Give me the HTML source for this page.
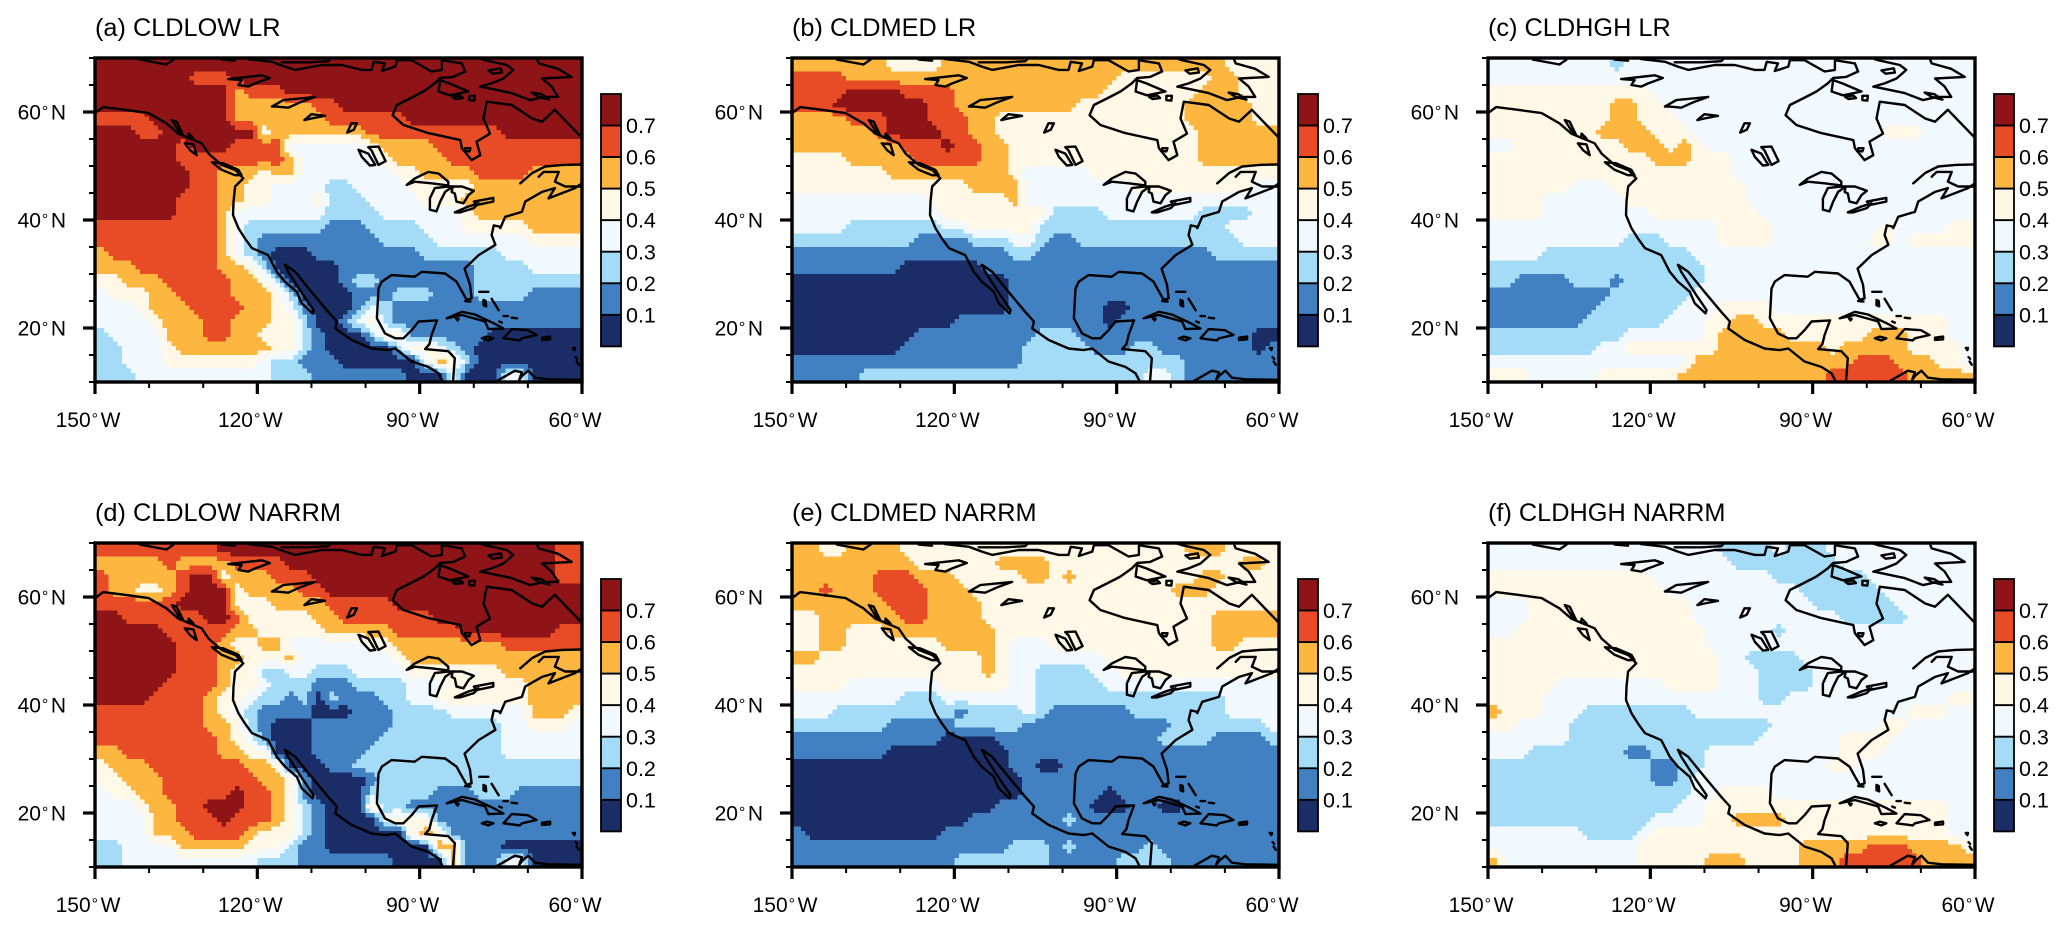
<!DOCTYPE html>
<html lang="en">
<head>
<meta charset="utf-8">
<title>Cloud fraction maps: LR and NARRM</title>
<style>
html,body{margin:0;padding:0;background:#fff;}
svg{display:block;font-family:"Liberation Sans",Arial,sans-serif;fill:#000;}
</style>
</head>
<body>
<svg id="figure" width="2067" height="927" viewBox="0 0 2067 927" xmlns="http://www.w3.org/2000/svg"></svg>
<script>
// Cloud fraction class in tenths, 2.5 degree cells: rows from 70N south, columns from 150W east.
const cldlowLr = [
[7,7,7,7,7,7,7,7,7,7,7,7,7,7,7,7,7,7,7,7,7,7,7,7,7,7,7,7,7,7,7,7,7,7,7,7],
[7,7,7,7,7,7,7,6,6,6,7,7,7,7,7,7,7,7,7,7,7,7,7,7,7,7,7,7,7,7,7,7,7,7,7,7],
[7,7,7,7,7,7,7,7,7,7,5,6,6,6,7,7,7,7,7,7,7,7,7,7,7,7,7,7,7,7,7,7,7,7,7,7],
[7,7,7,7,7,7,7,7,7,7,5,5,5,5,5,5,6,6,7,7,7,7,7,7,7,7,7,7,7,7,7,7,7,7,7,7],
[6,6,6,6,7,7,7,7,7,7,5,5,5,5,5,5,5,6,6,6,6,6,6,7,7,7,7,7,7,7,7,7,7,7,7,7],
[7,7,7,6,6,7,7,7,7,7,7,7,4,5,5,5,5,5,5,5,6,6,6,6,6,6,6,6,6,6,7,7,7,7,7,7],
[7,7,7,7,7,7,6,7,7,7,6,6,6,6,3,3,3,3,3,3,4,5,5,5,5,6,6,6,6,6,6,6,6,6,6,6],
[7,7,7,7,7,7,6,6,6,6,6,6,6,6,5,3,3,3,3,3,3,4,5,5,5,5,6,6,6,6,6,6,6,6,6,6],
[7,7,7,7,7,7,7,6,6,5,5,5,4,5,5,3,3,3,3,3,3,3,4,4,5,5,5,5,6,6,6,6,5,5,5,5],
[7,7,7,7,7,7,7,6,6,5,5,4,4,3,3,3,3,2,2,3,3,3,3,4,4,4,4,4,5,5,5,5,5,5,5,5],
[7,7,7,7,7,7,6,6,6,5,5,4,4,3,3,3,4,2,2,2,3,3,3,3,4,4,4,5,5,5,5,5,5,5,5,5],
[7,7,7,7,7,7,6,6,6,5,3,3,3,3,3,3,3,2,2,2,2,3,3,3,3,3,3,4,5,5,5,5,5,5,5,5],
[6,6,6,6,6,6,6,6,6,5,3,2,2,2,2,2,2,1,1,1,2,2,2,2,3,3,3,4,4,4,4,4,5,5,5,5],
[6,6,6,6,6,6,6,6,6,5,3,2,1,1,1,1,1,1,1,1,1,2,2,2,2,3,3,3,3,3,3,3,4,4,4,4],
[5,6,6,6,6,6,6,6,6,5,3,2,1,0,0,0,1,1,1,1,1,1,1,1,2,2,2,2,2,2,3,3,3,3,3,3],
[5,5,5,6,6,6,6,6,6,5,5,4,2,0,0,0,0,0,1,1,1,1,1,1,1,1,1,1,2,2,2,2,3,3,3,3],
[4,4,5,5,5,6,6,6,6,6,5,5,4,2,0,0,0,0,1,2,2,1,1,1,1,1,1,1,2,2,2,2,2,2,2,2],
[3,4,4,4,5,5,6,6,6,6,5,5,5,4,2,0,0,0,0,1,1,1,2,2,2,1,1,1,2,2,2,2,1,1,1,1],
[3,3,3,4,5,5,5,6,6,6,6,5,5,4,3,1,0,0,0,1,3,2,1,1,1,1,1,1,1,1,1,1,1,1,1,1],
[3,3,3,3,4,5,5,5,6,6,5,5,5,4,4,2,0,0,1,3,4,2,1,1,1,1,1,1,1,1,1,1,1,1,1,1],
[2,3,3,3,3,5,5,5,6,6,5,5,4,4,4,2,1,0,0,0,2,4,4,1,1,1,1,1,1,0,0,0,0,0,0,0],
[2,2,3,3,3,4,5,5,5,5,5,5,5,4,4,2,1,0,0,0,0,0,2,4,4,3,2,1,0,0,0,0,0,0,0,0],
[2,2,3,3,3,4,4,4,4,4,4,4,3,2,2,1,1,1,0,0,0,0,0,0,3,5,4,2,0,0,0,0,0,0,0,0],
[2,2,2,3,3,3,3,3,3,3,3,3,3,2,2,2,1,1,1,1,1,1,1,0,0,0,3,0,0,0,3,3,0,0,0,0]
];
const cldmedLr = [
[5,5,5,5,5,5,5,4,4,4,4,5,5,5,5,5,5,5,5,5,5,5,5,5,5,5,5,5,5,5,5,5,4,4,4,4],
[6,6,6,6,5,5,5,5,5,5,5,5,5,5,5,5,5,5,5,5,5,5,5,5,4,4,4,4,4,4,4,5,5,4,4,4],
[6,6,6,6,7,7,7,7,6,6,6,6,5,5,5,5,5,5,5,5,5,5,5,4,4,4,4,4,4,4,5,5,5,4,4,4],
[6,6,6,7,7,7,7,7,7,7,6,6,5,5,5,5,5,5,5,5,5,4,4,4,4,4,4,4,4,5,5,5,5,5,4,4],
[5,5,5,5,6,6,6,7,7,7,6,6,6,5,5,4,4,4,4,4,4,4,4,4,4,4,4,4,4,5,5,5,5,5,4,4],
[5,5,5,5,5,5,6,7,7,7,7,6,6,5,5,4,4,4,4,4,4,4,4,4,4,4,4,4,4,4,5,5,5,5,5,5],
[5,5,5,5,5,5,5,5,6,6,6,7,6,6,5,5,4,4,4,4,4,4,4,4,4,4,4,4,4,4,5,5,5,5,5,5],
[4,4,4,4,5,5,5,5,5,6,6,6,6,6,5,5,4,4,4,4,4,4,4,4,4,4,4,4,4,4,5,5,5,5,5,5],
[4,4,4,4,4,4,4,5,5,5,5,5,5,5,5,5,4,3,3,3,3,3,4,4,4,4,4,4,4,4,4,4,4,4,4,4],
[4,4,4,4,4,4,4,4,4,4,4,4,4,5,5,5,5,3,3,3,3,3,3,3,3,4,4,4,4,4,4,4,4,4,3,3],
[3,3,3,3,3,3,3,3,3,3,4,4,4,4,4,4,5,3,3,3,3,3,3,3,3,3,3,3,3,3,3,3,3,3,3,3],
[3,3,3,3,3,3,3,3,3,3,3,4,4,4,4,4,4,4,4,2,2,2,2,3,3,3,3,3,3,3,2,2,2,2,3,3],
[3,3,3,3,2,2,2,2,2,2,2,3,3,4,4,4,4,4,2,2,2,2,2,2,2,2,2,2,2,2,2,2,3,3,3,3],
[2,2,2,2,2,2,2,2,2,1,1,1,1,2,2,2,3,3,2,1,1,2,2,2,2,2,2,2,2,2,2,2,2,3,3,3],
[1,1,1,1,1,1,1,1,1,1,1,1,1,1,1,1,2,2,1,1,1,1,1,1,1,1,1,1,1,1,1,2,2,2,2,2],
[1,1,1,1,1,1,1,1,0,0,0,0,0,0,1,1,1,1,1,1,1,1,1,1,1,1,1,1,1,1,1,1,1,1,1,1],
[0,0,0,0,0,0,0,0,0,0,0,0,0,0,0,0,1,1,1,1,1,1,1,1,1,1,1,1,1,1,1,1,1,1,1,1],
[0,0,0,0,0,0,0,0,0,0,0,0,0,0,0,0,1,1,1,1,1,1,1,1,1,1,1,1,1,1,1,1,1,1,1,1],
[0,0,0,0,0,0,0,0,0,0,0,0,0,0,0,0,1,1,1,1,1,1,1,0,0,1,1,1,1,1,1,1,1,1,1,1],
[0,0,0,0,0,0,0,0,0,0,0,0,1,1,1,1,1,1,1,1,1,1,1,0,1,1,1,1,1,1,1,1,1,1,1,1],
[0,0,0,0,0,0,0,0,0,1,1,1,1,1,1,1,1,1,2,2,2,1,1,1,1,1,1,1,1,1,1,1,1,1,0,0],
[0,0,0,0,0,0,0,0,1,1,1,1,1,1,1,1,1,2,2,2,2,2,1,1,1,2,2,1,1,1,1,1,1,1,0,1],
[1,1,1,1,1,1,1,1,1,1,1,1,1,1,1,1,1,2,2,2,2,2,2,2,2,2,2,2,2,1,1,1,1,1,1,1],
[1,1,1,1,1,2,2,2,2,2,2,2,2,2,2,2,2,2,2,2,2,2,2,2,2,2,3,3,2,1,1,1,1,1,1,1]
];
const cldhghLr = [
[3,3,3,3,3,3,3,3,3,2,3,3,3,3,3,3,3,3,3,3,3,3,3,3,3,3,3,3,3,3,3,3,3,3,3,3],
[3,3,3,3,3,3,3,3,3,3,3,3,3,3,3,3,3,3,3,3,3,3,3,3,3,3,3,3,3,3,3,3,3,3,3,3],
[4,4,4,4,4,4,4,4,4,4,4,4,3,3,3,3,3,3,3,3,3,3,3,3,3,3,3,3,3,3,3,3,3,3,3,3],
[4,4,4,4,4,4,4,4,4,5,5,4,4,3,3,3,3,3,3,3,3,3,3,3,3,3,3,3,3,3,3,3,3,3,3,3],
[4,4,4,4,4,4,4,4,4,5,5,4,4,4,3,3,3,3,3,3,3,3,3,3,3,3,3,3,3,3,3,3,3,3,3,3],
[4,4,4,4,4,4,4,4,5,5,5,5,4,4,4,3,3,3,3,3,3,3,3,3,3,3,3,3,3,4,4,4,3,3,3,3],
[3,3,4,4,4,4,4,4,4,4,5,5,5,4,5,4,3,3,3,3,3,3,3,3,3,3,3,3,3,3,3,3,3,3,3,3],
[4,4,4,4,4,4,4,4,4,4,4,4,5,5,5,4,4,4,3,3,3,3,3,3,3,3,3,3,3,3,3,3,3,3,3,3],
[4,4,4,4,4,4,4,4,4,4,4,4,4,4,4,4,4,4,3,3,3,3,3,3,3,3,3,3,3,3,3,3,3,3,3,3],
[4,4,4,4,4,4,3,3,3,4,4,4,4,4,4,4,4,4,4,3,3,3,3,3,3,3,3,3,3,3,3,3,3,3,3,3],
[4,4,4,4,3,3,3,3,3,3,4,4,4,4,4,4,4,4,4,3,3,3,3,3,3,3,3,3,3,3,3,3,3,3,3,3],
[4,4,4,4,3,3,3,3,3,3,3,3,4,4,4,4,4,4,4,4,3,3,3,3,3,3,3,3,3,3,3,3,3,3,3,3],
[3,3,3,3,3,3,3,3,3,3,3,3,3,3,3,3,3,4,4,4,4,3,3,3,3,3,3,3,3,4,3,3,3,3,4,4],
[3,3,3,3,3,3,3,3,3,3,2,2,2,3,3,3,3,4,4,4,4,3,3,3,3,3,3,3,4,4,3,4,4,4,4,4],
[3,3,3,3,2,2,2,2,2,2,2,2,2,2,2,3,3,3,3,3,3,3,3,3,3,3,3,3,3,3,3,3,3,3,3,3],
[2,2,2,2,2,2,2,2,2,2,2,2,2,2,2,2,3,3,3,3,3,3,3,3,3,3,3,3,3,3,3,3,3,3,3,3],
[2,2,1,1,1,1,2,2,2,1,2,2,2,2,2,2,3,3,3,3,3,3,3,3,3,3,3,3,3,3,3,3,3,3,3,3],
[1,1,1,1,1,1,1,1,1,2,2,2,2,2,2,3,3,3,3,3,3,3,3,3,3,3,3,3,3,3,3,3,3,3,3,3],
[1,1,1,1,1,1,1,1,2,2,2,2,2,2,3,3,3,4,4,4,4,3,3,3,3,3,3,3,3,3,3,3,3,3,3,3],
[1,1,1,1,1,1,1,2,2,2,2,2,2,3,3,3,4,4,5,5,4,4,4,4,4,4,4,4,4,4,4,4,4,4,3,3],
[2,2,2,2,2,2,2,2,2,2,3,3,3,3,3,3,4,5,5,5,5,5,4,4,4,4,4,4,5,5,5,4,4,4,3,3],
[2,2,2,2,2,2,2,2,3,3,4,4,4,4,4,4,4,5,5,5,5,5,5,5,5,4,5,5,5,5,5,4,4,4,4,3],
[3,3,3,3,3,3,3,3,3,3,3,3,3,3,3,5,5,5,5,5,5,5,5,5,5,5,5,6,6,6,5,5,5,4,4,3],
[4,4,4,3,3,3,3,3,4,4,4,4,4,4,5,5,5,5,5,5,5,5,5,5,5,6,6,6,6,6,6,5,5,5,5,5]
];
const cldlowNarrm = [
[6,6,6,6,6,6,6,6,6,7,7,7,7,7,7,7,7,7,7,7,7,7,7,7,7,7,7,7,7,7,7,7,7,7,6,6],
[5,5,5,5,5,6,5,5,5,5,6,6,6,6,7,7,7,7,7,7,7,7,7,7,7,7,7,7,7,7,7,7,7,7,6,6],
[6,5,5,5,5,5,6,7,7,4,5,5,5,6,6,6,7,7,7,7,7,7,7,7,7,7,7,7,7,7,7,7,7,7,6,6],
[6,5,5,4,4,5,6,7,7,7,4,5,5,5,5,6,6,7,7,7,7,7,7,7,7,7,7,7,7,7,7,7,7,7,7,7],
[6,6,6,6,6,6,7,7,7,7,4,4,4,5,5,5,5,6,6,6,6,6,7,7,7,7,7,7,7,7,7,7,7,7,7,7],
[7,7,6,6,6,6,6,6,7,7,6,4,4,4,4,4,5,5,6,6,6,6,6,6,6,7,7,7,7,7,7,7,7,7,7,7],
[7,7,7,7,7,6,6,6,6,6,5,5,4,4,4,4,4,5,5,5,5,5,6,6,6,6,6,7,7,7,7,7,7,7,6,6],
[7,7,7,7,7,7,6,6,6,5,4,4,5,5,3,3,3,3,3,3,4,4,5,5,5,5,5,5,5,5,6,6,6,6,6,6],
[7,7,7,7,7,7,6,6,6,5,5,4,4,4,5,3,3,3,3,3,3,3,4,5,5,5,5,5,5,5,5,5,5,5,5,5],
[7,7,7,7,7,7,6,6,6,5,4,4,2,2,3,3,2,2,2,3,3,3,3,4,4,4,4,4,4,4,5,5,5,5,5,5],
[7,7,7,7,7,6,6,6,6,5,4,4,3,2,2,2,1,1,1,2,2,2,2,3,3,3,4,4,4,4,4,4,5,5,5,5],
[7,7,7,7,6,6,6,6,5,4,4,3,2,2,1,2,0,2,1,1,1,2,2,3,3,4,4,4,4,4,4,4,5,5,5,5],
[6,6,6,6,6,6,6,6,5,4,3,2,1,1,1,1,0,0,0,1,1,1,2,2,2,2,3,3,3,3,3,3,5,5,5,4],
[6,6,6,6,6,6,6,6,5,5,4,2,1,0,0,0,1,1,1,1,1,1,2,2,2,2,2,2,2,2,3,3,4,4,4,3],
[6,6,6,6,6,6,6,6,6,5,4,3,1,0,0,0,1,1,1,1,1,2,2,2,2,2,2,2,2,2,3,3,3,3,3,3],
[5,5,6,6,6,6,6,6,6,5,5,4,4,0,0,0,1,1,1,1,2,2,2,2,2,2,2,2,2,2,3,3,3,3,3,3],
[4,5,5,5,6,6,6,6,6,6,6,5,5,4,0,0,0,1,1,2,2,2,2,2,2,2,2,2,2,2,2,2,2,2,2,2],
[4,4,5,5,5,6,6,6,6,6,6,6,5,5,4,1,0,0,0,0,1,2,2,2,2,2,2,2,2,2,2,2,2,2,2,2],
[3,4,4,5,5,6,6,6,6,6,7,6,6,5,4,1,0,0,0,0,2,2,2,2,2,1,1,1,2,2,2,1,1,1,1,1],
[3,3,3,4,5,5,6,6,7,7,7,6,6,5,4,2,1,0,0,0,4,2,2,1,1,1,1,1,1,1,1,1,1,1,1,1],
[3,3,3,3,5,5,6,6,6,7,6,6,6,5,4,2,1,0,0,0,0,3,4,4,4,1,1,1,1,1,1,1,1,1,1,1],
[3,3,3,3,5,5,5,6,6,6,6,5,4,4,4,2,1,0,0,0,0,0,0,4,5,4,1,1,1,1,1,1,1,1,1,1],
[2,2,3,3,3,3,5,5,5,5,5,4,4,4,2,1,1,0,0,0,0,0,0,0,0,5,5,1,1,1,0,0,0,0,0,0],
[2,2,3,3,3,3,3,3,3,3,3,3,2,2,2,1,1,1,1,1,1,1,0,0,0,0,5,1,1,1,3,3,0,0,0,0]
];
const cldmedNarrm = [
[5,5,4,4,5,5,5,5,4,4,4,4,4,4,4,4,4,4,4,4,4,4,4,4,4,4,4,4,4,5,5,5,4,4,4,4],
[5,5,5,5,5,5,5,5,5,4,4,4,4,4,4,5,5,5,5,4,4,4,4,4,4,4,4,4,4,4,4,4,4,5,5,4],
[5,5,5,5,5,5,6,6,6,5,5,5,4,4,4,4,4,5,5,4,5,4,4,4,4,4,4,4,4,4,5,5,4,4,4,4],
[5,5,6,5,5,5,6,6,6,6,5,5,5,4,4,4,4,4,4,4,4,4,4,4,4,4,4,4,5,5,5,4,4,4,4,4],
[5,5,5,5,5,5,5,6,6,6,5,5,5,5,4,4,4,4,4,4,4,4,4,4,4,4,4,4,4,4,4,4,4,4,4,4],
[4,4,5,5,5,5,5,5,6,6,5,5,5,5,4,4,4,4,4,4,4,4,4,4,4,4,4,4,4,4,4,5,5,5,5,5],
[4,4,5,5,4,4,4,5,5,5,5,5,5,5,5,4,4,4,4,4,4,4,4,4,4,4,4,4,4,4,4,5,5,5,5,5],
[4,4,5,5,4,4,4,4,4,4,4,5,5,5,5,4,3,3,3,4,4,4,4,4,4,4,4,4,4,4,4,5,5,4,4,4],
[5,5,4,4,4,4,4,4,4,4,4,4,4,4,5,4,3,3,3,3,3,3,3,4,4,4,4,4,4,4,4,4,4,4,4,4],
[4,4,4,4,4,4,4,4,4,4,4,4,4,4,5,4,3,3,2,2,2,2,3,3,4,4,4,4,4,4,4,4,4,4,4,4],
[4,4,4,4,3,3,3,3,3,3,3,4,4,4,4,4,3,3,2,2,2,2,2,3,3,3,3,3,3,3,3,3,3,3,3,3],
[3,3,3,3,3,3,3,3,2,2,2,3,3,3,3,3,3,3,2,2,2,2,2,2,2,2,2,2,2,2,2,2,3,3,3,3],
[3,3,3,2,2,2,2,2,2,2,2,2,1,2,2,2,2,3,2,1,1,1,1,1,1,2,2,2,2,2,2,2,3,3,3,3],
[2,2,2,2,2,2,2,1,1,1,1,1,2,2,2,2,2,1,1,1,1,1,1,1,1,1,1,1,2,2,2,2,2,2,2,3],
[1,1,1,1,1,1,1,1,1,1,1,0,0,0,0,1,1,1,1,1,1,1,1,1,1,1,1,2,2,2,2,1,1,1,1,2],
[1,1,1,1,1,1,1,0,0,0,0,0,0,0,0,0,1,1,1,1,1,1,1,1,1,1,1,1,1,1,1,1,1,1,1,1],
[0,0,0,0,0,0,0,0,0,0,0,0,0,0,0,0,1,1,0,0,1,1,1,1,1,1,1,1,1,1,1,1,1,1,1,1],
[0,0,0,0,0,0,0,0,0,0,0,0,0,0,0,0,0,1,1,1,1,1,1,1,1,1,1,1,1,1,1,1,1,1,1,1],
[0,0,0,0,0,0,0,0,0,0,0,0,0,0,0,0,0,1,1,1,1,1,1,0,1,1,1,1,1,1,1,1,1,1,1,1],
[0,0,0,0,0,0,0,0,0,0,0,0,0,0,0,1,1,1,1,1,1,1,0,0,0,1,1,0,0,1,1,1,1,1,1,1],
[0,0,0,0,0,0,0,0,0,0,0,0,0,1,1,1,1,1,1,1,2,1,1,1,1,1,1,1,1,1,1,1,1,1,1,1],
[1,0,0,0,0,0,0,0,0,0,0,1,1,1,1,1,1,1,1,1,1,1,1,1,1,1,1,1,1,1,1,1,1,1,1,1],
[1,1,1,1,1,1,1,1,1,1,1,1,1,1,1,1,2,2,2,1,2,1,1,1,1,1,2,1,1,1,1,1,1,1,1,1],
[1,1,1,1,1,1,1,1,1,1,1,1,2,2,2,2,2,2,2,1,1,1,1,1,2,2,2,2,1,1,1,1,1,1,1,1]
];
const cldhghNarrm = [
[3,3,3,3,3,3,3,3,3,3,3,3,3,3,3,3,3,2,2,2,2,3,2,2,2,3,3,3,3,3,3,3,3,3,3,3],
[3,3,3,3,3,3,3,3,3,3,3,3,3,3,3,3,3,3,2,2,2,2,2,2,2,2,3,3,3,3,3,3,3,3,3,3],
[4,4,4,4,4,4,4,4,4,4,4,4,3,3,3,3,3,3,3,3,3,2,2,2,2,2,2,2,3,3,3,3,3,3,3,3],
[4,4,4,4,4,4,4,4,4,4,4,4,4,3,3,3,3,3,3,3,3,3,3,2,2,2,2,2,2,3,3,3,3,3,3,3],
[3,3,3,4,4,4,4,4,4,4,4,4,4,4,4,3,3,3,3,3,3,3,3,3,2,2,2,2,2,2,3,3,3,3,3,3],
[3,3,3,4,4,4,4,4,4,4,4,4,4,4,4,3,3,3,3,3,3,3,3,3,3,3,2,2,2,2,2,3,3,3,3,3],
[3,3,4,4,4,4,4,4,4,4,4,4,4,4,4,4,3,3,3,3,3,2,3,3,3,3,3,3,3,3,3,3,3,3,3,3],
[4,4,4,4,4,4,4,4,4,4,4,4,4,4,4,4,3,3,3,3,3,3,3,3,3,3,3,3,3,3,3,3,3,3,3,3],
[4,4,4,4,4,4,4,4,4,4,4,4,4,4,4,4,4,3,3,2,2,2,2,3,3,3,3,3,3,3,3,3,3,3,3,3],
[4,4,4,4,4,4,4,4,4,4,4,4,4,4,4,4,4,3,3,3,2,2,2,2,3,3,3,3,3,3,3,3,3,3,3,3],
[4,4,4,4,4,3,3,3,3,3,3,3,3,4,4,4,4,3,3,3,2,2,2,2,3,3,3,3,3,3,3,3,3,3,3,3],
[4,4,4,4,3,3,3,3,3,3,3,3,3,3,3,3,3,3,3,3,2,2,3,3,3,3,3,3,3,3,3,3,3,3,4,4],
[5,4,4,4,3,3,3,2,2,2,2,2,2,2,2,3,3,3,3,3,3,3,3,3,3,3,3,3,3,3,3,4,4,4,3,3],
[4,4,3,3,3,3,2,2,2,2,2,2,2,2,2,2,2,2,2,2,2,3,3,3,3,3,3,3,3,4,4,3,3,3,3,3],
[3,3,3,3,3,3,2,2,2,2,2,2,2,2,2,2,2,2,2,2,3,3,3,3,3,3,4,4,4,4,3,3,3,3,3,3],
[3,3,3,2,2,2,2,2,2,2,1,1,2,2,2,2,3,3,3,3,3,3,3,3,3,3,4,4,4,3,3,3,3,3,3,3],
[2,2,2,2,2,2,2,2,2,2,2,2,1,1,2,2,3,3,3,3,3,3,3,3,3,4,4,3,3,3,3,3,3,3,3,3],
[2,2,2,2,2,2,2,2,2,2,2,2,1,1,2,3,3,3,3,3,3,3,3,3,3,3,3,3,3,3,3,3,3,3,3,3],
[2,2,2,2,2,2,2,2,2,2,2,2,2,2,2,3,3,4,4,4,4,3,3,3,3,3,3,3,3,3,3,3,3,3,3,3],
[2,2,2,2,2,2,2,2,2,2,2,2,2,2,3,3,4,4,4,4,4,4,4,4,4,4,4,4,4,4,4,4,4,4,3,3],
[2,2,2,2,2,2,2,2,2,2,2,2,3,3,3,3,4,4,5,5,5,5,4,4,4,4,4,4,4,4,4,4,4,4,3,3],
[3,3,3,3,3,3,3,2,2,2,2,3,4,4,4,4,4,4,4,4,4,4,4,4,4,4,4,4,4,4,4,4,4,4,3,3],
[3,3,3,3,3,3,3,3,3,3,3,4,4,4,4,4,4,4,4,4,4,4,4,5,5,5,5,5,6,6,6,5,5,5,5,4],
[5,3,3,3,3,3,3,3,3,3,3,4,4,4,4,4,5,5,5,4,4,4,4,5,5,5,6,6,6,6,6,6,5,5,5,5]
];

const panelTitles = ["(a) CLDLOW LR","(b) CLDMED LR","(c) CLDHGH LR","(d) CLDLOW NARRM","(e) CLDMED NARRM","(f) CLDHGH NARRM"];
const panelNames = ["cldlow-lr","cldmed-lr","cldhgh-lr","cldlow-narrm","cldmed-narrm","cldhgh-narrm"];
const panelValues = [cldlowLr,cldmedLr,cldhghLr,cldlowNarrm,cldmedNarrm,cldhghNarrm];
const colorLevels = ["0.7","0.6","0.5","0.4","0.3","0.2","0.1"];
const palette = ["#1b2d66","#4180c1","#a4dcf8","#f2f9fe","#fff8e6","#fdb741","#e84c26","#8f1417"];
const latMajor = [60,40,20];
const latMinor = [70,65,55,50,45,35,30,25,15,10];
const lonMajor = [-150,-120,-90,-60];
const lonMinor = [-140,-130,-110,-100,-80,-70];
const latLabels = ["60","40","20"];
const lonLabels = ["150","120","90","60"];

// Coastlines as [lon, lat].
const coastPacific = [[-150,59.8],[-148.5,60.9],[-144.5,60.4],[-140.1,59.8],[-136.8,57.9],[-134.6,56],[-130.3,54.2],[-129,52.3],[-126.6,50.2],[-124,49.2],[-122.6,47.7],[-124.1,46.2],[-124.4,43.4],[-124.5,40.9],[-123.5,38.5],[-122.3,36.6],[-121,34.8],[-118,33.5],[-116.4,30.4],[-114.9,28.6],[-112.7,26.7],[-111.8,24.6],[-109.8,22.7],[-109.6,23.3],[-111.5,26.1],[-114.3,30.4],[-114.9,31.7],[-113,30.4],[-110,26.7],[-106.9,23],[-105.3,21.2],[-105.6,19.9],[-102.6,17.8],[-98.9,16.2],[-96.1,15.9],[-94.5,16.2],[-91.5,13.8],[-88.4,12.8],[-86.5,11.6],[-85.9,10.4],[-85.6,9.5]];
const coastAtlantic = [[-83.8,9.5],[-83.8,10.5],[-83.5,14.4],[-84.7,15.7],[-89,16.1],[-88.2,17],[-87.8,18.7],[-86.8,21.4],[-90.2,21.2],[-91.5,19.6],[-93,18.1],[-94.5,18.1],[-96.4,19],[-97.9,21.8],[-97.6,27.3],[-97,28.6],[-95.2,29.8],[-90.9,29.5],[-89.6,30.4],[-85.3,30.1],[-83.2,28.6],[-82.5,27.3],[-81.3,25.2],[-80.4,25.5],[-80.7,28],[-81.7,31],[-79.1,33.5],[-76,35.4],[-76.7,37.2],[-76.3,39],[-75.3,38.8],[-75.1,38.5],[-74.2,40.6],[-71.1,41.5],[-70.5,43.4],[-67.4,45.2],[-65,45.9],[-66.2,44],[-61.3,45.9],[-60,46.8]];
const coastStLawrence = [[-71.4,46.8],[-69.2,48.7],[-66.8,49.9],[-63.6,50.2],[-60,50.3]];
const coastGaspe = [[-60,46.2],[-63.1,46.2],[-65,47.1],[-64.3,48.9],[-67.1,48.9],[-68,48]];
const coastArctic = [[-121.7,69.8],[-117.3,69.3],[-114.9,68.4],[-113,67.8],[-108.1,68.7],[-104.4,68.7],[-100.7,67.8],[-98.9,67.8],[-98.5,69.3],[-96.4,69],[-97,67.6],[-94.5,68.4],[-94.2,69.6],[-91.5,69.6],[-87.8,67.5],[-85.9,67.8],[-85.9,69.6],[-82.2,69],[-81.6,67.5],[-83.8,66.5],[-86.2,66.3],[-87.2,65.3],[-89.3,63.8],[-91.8,62.5],[-94.2,61.3],[-95,59.4],[-93,57.6],[-88.4,56.1],[-82.5,54.8],[-82.2,53.3],[-80.4,51.1],[-78.8,52],[-79.5,54.5],[-77,56],[-78.2,58.8],[-77.6,61.9],[-73,61.3],[-69.2,58.8],[-67.4,58.2],[-65,60.4],[-60,55.2]];
const coastBeaufort = [[-141.7,69.7],[-136.8,68.8],[-135.5,69.7]];
const coastMackenzie = [[-126.6,69.7],[-124.1,69.5]];
const coastVictoria = [[-115.5,69.2],[-110.5,69.2],[-106.9,69.4],[-106.3,70]];
const coastBaffin = [[-68.4,70],[-68,69],[-64.4,68],[-61.9,66.5],[-67.4,66.2],[-65.6,64.7],[-64.4,62.8],[-67,62.8],[-69.6,62.2],[-73,63.5],[-77.3,64.4],[-78.8,64.7],[-76.7,65.3],[-74.5,66.2],[-72.7,67.8],[-73.9,68.7],[-77.9,69.6],[-79.1,70]];
const islandPolygons = [
[[-86.5,66],[-84.5,65.3],[-81,63.8],[-84.4,63.1],[-86.5,63.8],[-86.2,66]],
[[-77.3,67.7],[-75,68.1],[-74.8,67.3],[-76.5,67.1]],
[[-69.3,63.6],[-67.5,63.3],[-66,62.3],[-68,62.8]],
[[-84,62.8],[-82.5,63.1],[-82,62.6],[-83.4,62.4]],
[[-80.8,63],[-79.8,63],[-79.9,62.1],[-80.8,62.2]],
[[-81.6,53.3],[-80.6,53.3],[-80.8,52.7],[-81.6,52.8]],
[[-128.4,50.7],[-126.3,50.5],[-123.5,49.3],[-122.9,48.3],[-124.1,48.3],[-126.6,49.3]],
[[-133.4,54.2],[-131.8,54],[-131.2,52],[-132.4,52.9]],
[[-135.8,58.5],[-134.9,58.2],[-133.7,55.7],[-134.6,56.6]],
[[-132.7,56],[-131.8,55.1],[-132.8,55.2]],
[[-125.4,66.1],[-119.2,66.8],[-117.7,66.3],[-120.4,65.3],[-121.7,64.7],[-123.5,65],[-122.9,65.9]],
[[-117.3,61],[-115.2,62.2],[-109.3,62.8],[-111.8,61.9],[-114.3,60.8],[-116.4,61]],
[[-111.3,58.5],[-110,59.6],[-107.5,59.3],[-110,58.8]],
[[-103.4,56.2],[-102.6,57.9],[-101.6,57.9],[-102.2,56.7]],
[[-99.5,53.5],[-97.6,53.6],[-96.3,50.9],[-97.6,50.2],[-98.9,52.9]],
[[-101.3,53],[-99.5,52.3],[-98.2,50.2],[-99.2,50.1],[-100.7,51.7]],
[[-92.4,46.5],[-90.9,47.7],[-88.4,48.9],[-86.5,48.6],[-84.7,47.1],[-84.7,46.4],[-87.8,46.8],[-90.9,47.1]],
[[-84.7,46.2],[-87.2,45.9],[-88.1,44],[-88.1,41.9],[-86.9,41.6],[-86.2,43.4],[-85.3,45.2],[-83.9,46.2]],
[[-83.9,46.2],[-82.2,46.2],[-80,45.4],[-81,44.6],[-81.9,43.1],[-83.2,43.4],[-83.5,44.9],[-84.1,45.2]],
[[-83.5,41.4],[-81,42.5],[-79.1,43.1],[-80,42.2],[-82.5,41.4]],
[[-80,43.4],[-76.4,44.1],[-76.4,43.4],[-79.4,42.8]],
[[-85,21.8],[-82.2,23],[-79.8,22.5],[-76.4,20.9],[-74.5,19.9],[-77.3,19.8],[-77.9,21.2],[-82.2,22.4]],
[[-83.3,21.8],[-82.8,21.7],[-83,21.4]],
[[-74.5,18.1],[-73,19.8],[-70,19.6],[-68.4,18.7],[-71.1,18.1],[-71.5,17.7]],
[[-78.5,18.1],[-77.6,18.4],[-76.4,18.1],[-77.3,17.7]],
[[-67.4,18.2],[-65.9,18.4],[-65.9,17.9],[-67.4,17.8]],
[[-78.2,25.2],[-77.8,25],[-77.7,24],[-78.2,24.2]],
[[-61.7,16.3],[-61.3,16.3],[-61.4,15.9]]
];
const islandLines = [
[[-79,26.7],[-77.3,26.7]],[[-76.7,25.4],[-75.4,23.3]],[[-74.5,22.2],[-73.7,22.2]],[[-73,21.9],[-72,21.8]],[[-75.3,21.2],[-74.8,21]],[[-81.6,25],[-80.6,24.9]],[[-61.2,14.6],[-60.9,14.3]],[[-61,13.8],[-60.6,13.2]]
];
const coastVenezuela = [[-75.7,10.2],[-72.4,12.1],[-71.1,11.8],[-71.6,10.4],[-71,11.2],[-69.9,12.1],[-68.7,10.8],[-66.2,10.5],[-60,10.4]];
const coastLines = [coastPacific,coastAtlantic,coastStLawrence,coastGaspe,coastArctic,coastBeaufort,coastMackenzie,coastVictoria,coastBaffin,coastVenezuela];

const NS = "http://www.w3.org/2000/svg";
const fig = document.getElementById("figure");
const panelLefts = [95,792,1488];
const panelTops = [58,543];
const panelW = 487, panelH = 324, barStep = 31.55;
const gridDeg = 2.5, subdiv = 3;

function make(parent, tag, attrs, text){
  const el = document.createElementNS(NS, tag);
  for (const k in attrs) el.setAttribute(k, attrs[k]);
  if (text !== undefined) el.textContent = text;
  parent.appendChild(el);
  return el;
}
function colorClass(v){
  return Math.max(0, Math.min(palette.length - 1, Math.floor(v)));
}
// Bilinear estimate between cell centres; a class value n sits mid-band at n + 0.5.
function fieldAt(values, lon, lat){
  const nr = values.length, nc = values[0].length;
  const cf = Math.max(0, Math.min(nc - 1, (lon + 150) / gridDeg - 0.5));
  const rf = Math.max(0, Math.min(nr - 1, (70 - lat) / gridDeg - 0.5));
  const c0 = Math.floor(cf), r0 = Math.floor(rf);
  const c1 = Math.min(nc - 1, c0 + 1), r1 = Math.min(nr - 1, r0 + 1);
  const tc = cf - c0, tr = rf - r0;
  const top = values[r0][c0] * (1 - tc) + values[r0][c1] * tc;
  const bot = values[r1][c0] * (1 - tc) + values[r1][c1] * tc;
  return top * (1 - tr) + bot * tr + 0.5;
}
function geoLabel(parent, number, hemi, x, y, anchor, name){
  const t = make(parent, "text", {x:x, y:y, "text-anchor":anchor, "font-size":21});
  
  
  make(t, "tspan", {}, number);
  make(t, "tspan", {dx:1, dy:-3, "font-size":16}, "\u00B0");
  make(t, "tspan", {dx:2.5, dy:3}, hemi);
  return t;
}
function polyPath(points, x, y, close){
  return "M" + points.map(p => x(p[0]).toFixed(1) + " " + y(p[1]).toFixed(1)).join("L") + (close ? "Z" : "");
}

function drawPanel(index){
  const col = index % 3, row = Math.floor(index / 3);
  const left = panelLefts[col], top = panelTops[row];
  const x = lon => left + (lon + 150) / 90 * panelW;
  const y = lat => top + (70 - lat) / 60 * panelH;
  const values = panelValues[index];

  const g = make(fig, "g", {});
  
  

  const title = make(g, "text", {x:left, y:top - 22, "font-size":25.3}, panelTitles[index]);
  
  

  const cells = make(g, "g", {"shape-rendering":"crispEdges"});
  
  
  const step = gridDeg / subdiv;
  const subRows = values.length * subdiv, subCols = values[0].length * subdiv;
  for (let r = 0; r < subRows; r++){
    const latTop = 70 - r * step;
    let runStart = 0;
    let runClass = colorClass(fieldAt(values, -150 + step / 2, latTop - step / 2));
    for (let c = 1; c <= subCols; c++){
      const cls = c < subCols ? colorClass(fieldAt(values, -150 + (c + 0.5) * step, latTop - step / 2)) : -1;
      if (cls !== runClass){
        const lonA = -150 + runStart * step, lonB = -150 + c * step;
        const cell = make(cells, "rect", {
          x:x(lonA), y:y(latTop),
          width:x(lonB) - x(lonA),
          height:y(latTop - step) - y(latTop),
          fill:palette[runClass]
        });
        
        
        runStart = c;
        runClass = cls;
      }
    }
  }

  const clipId = "clip" + index;
  const defs = make(g, "defs", {});
  const clip = make(defs, "clipPath", {id:clipId});
  make(clip, "rect", {x:left, y:top, width:panelW, height:panelH});

  const coast = make(g, "g", {"clip-path":"url(#" + clipId + ")", fill:"none", stroke:"#000", "stroke-width":2.4, "stroke-linejoin":"round", "stroke-linecap":"round"});
  
  
  coastLines.forEach(line => {
    const p = make(coast, "path", {d:polyPath(line, x, y, false)});
    
    
  });
  islandPolygons.forEach(poly => {
    const p = make(coast, "path", {d:polyPath(poly, x, y, true)});
    
    
  });
  islandLines.forEach(line => {
    const p = make(coast, "path", {d:polyPath(line, x, y, false)});
    
    
  });

  const frame = make(g, "rect", {x:left, y:top, width:panelW, height:panelH, fill:"none", stroke:"#000", "stroke-width":3.4});
  
  

  latMajor.forEach((lat, i) => {
    const t = make(g, "line", {x1:left - 12, x2:left, y1:y(lat), y2:y(lat), stroke:"#000", "stroke-width":3.2});
    
    
    geoLabel(g, latLabels[i], "N", left - 29, y(lat) + 7.5, "end", "lat-tick-label");
  });
  latMinor.forEach(lat => {
    const t = make(g, "line", {x1:left - 6, x2:left, y1:y(lat), y2:y(lat), stroke:"#000", "stroke-width":2});
    
    
  });
  lonMajor.forEach((lon, i) => {
    const t = make(g, "line", {x1:x(lon), x2:x(lon), y1:top + panelH, y2:top + panelH + 12, stroke:"#000", "stroke-width":3.2});
    
    
    geoLabel(g, lonLabels[i], "W", x(lon) - 7, top + panelH + 45, "middle", "lon-tick-label");
  });
  lonMinor.forEach(lon => {
    const t = make(g, "line", {x1:x(lon), x2:x(lon), y1:top + panelH, y2:top + panelH + 6, stroke:"#000", "stroke-width":2});
    
    
  });

  const bar = make(g, "g", {});
  
  
  const barX = left + 506, barY = top + 36;
  palette.slice().reverse().forEach((color, i) => {
    const box = make(bar, "rect", {x:barX, y:barY + i * barStep, width:20, height:barStep, fill:color, stroke:"#000", "stroke-width":1.8});
    
    
  });
  colorLevels.forEach((label, i) => {
    const t = make(bar, "text", {x:barX + 25, y:barY + (i + 1) * barStep + 7.5, "font-size":21.5}, label);
    
    
  });
}
panelValues.forEach((_, i) => drawPanel(i));
</script>
</body>
</html>
